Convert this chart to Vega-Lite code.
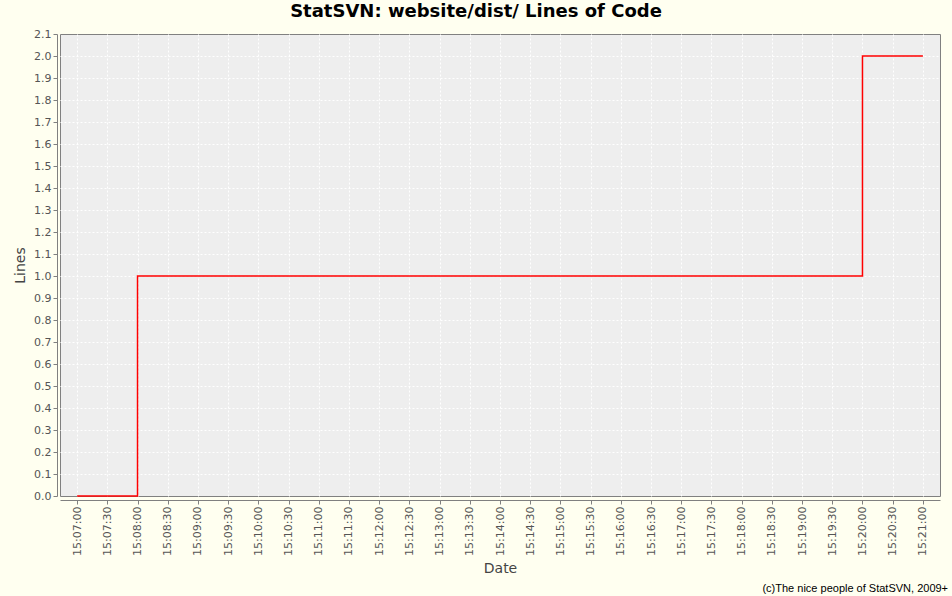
{
  "$schema": "https://vega.github.io/schema/vega-lite/v6.json",
  "width": 880,
  "height": 462,
  "autosize": {"type": "none"},
  "padding": {"left": 60, "top": 34, "right": 12, "bottom": 100},
  "background": "#FFFFF0",
  "title": {
    "text": "StatSVN: website/dist/ Lines of Code",
    "font": "DejaVu Sans",
    "fontSize": 18,
    "fontWeight": "bold",
    "color": "#000000",
    "anchor": "middle",
    "dx": -24,
    "offset": 7
  },
  "config": {
    "view": {"fill": "#EEEEEE", "stroke": "#808080", "strokeWidth": 1},
    "axis": {
      "labelFont": "DejaVu Sans",
      "labelFontSize": 11,
      "labelColor": "#555555",
      "titleFont": "DejaVu Sans",
      "titleFontSize": 14,
      "titleFontWeight": "normal",
      "titleColor": "#444444",
      "domainColor": "#808080",
      "tickColor": "#808080",
      "tickSize": 4,
      "gridColor": "#FFFFFF",
      "gridDash": [2, 2],
      "gridWidth": 1
    }
  },
  "layer": [
    {
      "data": {
        "values": [
          {"date": "2009-01-01T15:07:00", "lines": 0},
          {"date": "2009-01-01T15:08:00", "lines": 1},
          {"date": "2009-01-01T15:20:00", "lines": 2},
          {"date": "2009-01-01T15:21:00", "lines": 2}
        ]
      },
      "mark": {"type": "line", "interpolate": "step-after", "color": "#FF0000", "strokeWidth": 1.5},
      "encoding": {
        "x": {
          "field": "date",
          "type": "temporal",
          "title": "Date",
          "scale": {
            "domain": [
              {"year": 2009, "month": 1, "date": 1, "hours": 15, "minutes": 6, "seconds": 43},
              {"year": 2009, "month": 1, "date": 1, "hours": 15, "minutes": 21, "seconds": 17}
            ],
            "nice": false
          },
          "axis": {
            "format": "%H:%M:%S",
            "tickCount": 30,
            "labelAngle": 270,
            "labelAlign": "right",
            "labelBaseline": "middle",
            "labelPadding": 2,
            "labelOverlap": false,
            "offset": 4,
            "titlePadding": 6,
            "grid": true
          }
        },
        "y": {
          "field": "lines",
          "type": "quantitative",
          "title": "Lines",
          "scale": {"domain": [0, 2.1], "nice": false, "zero": false},
          "axis": {
            "tickCount": 21,
            "format": ".1f",
            "offset": 3,
            "labelPadding": 2,
            "labelOverlap": false,
            "titlePadding": 6,
            "grid": true,
            "gridOpacity": {"condition": {"test": "datum.value < 0.05 || datum.value > 2.05", "value": 0}, "value": 1}
          }
        }
      }
    },
    {
      "data": {
        "values": [
          {"date": "2009-01-01T15:21:25", "lines": -0.435, "label": "(c)The nice people of StatSVN, 2009+"}
        ]
      },
      "mark": {"type": "text", "align": "right", "baseline": "alphabetic", "font": "Liberation Sans", "fontSize": 11, "color": "#000000", "clip": false},
      "encoding": {
        "x": {"field": "date", "type": "temporal"},
        "y": {"field": "lines", "type": "quantitative"},
        "text": {"field": "label"}
      }
    }
  ]
}
